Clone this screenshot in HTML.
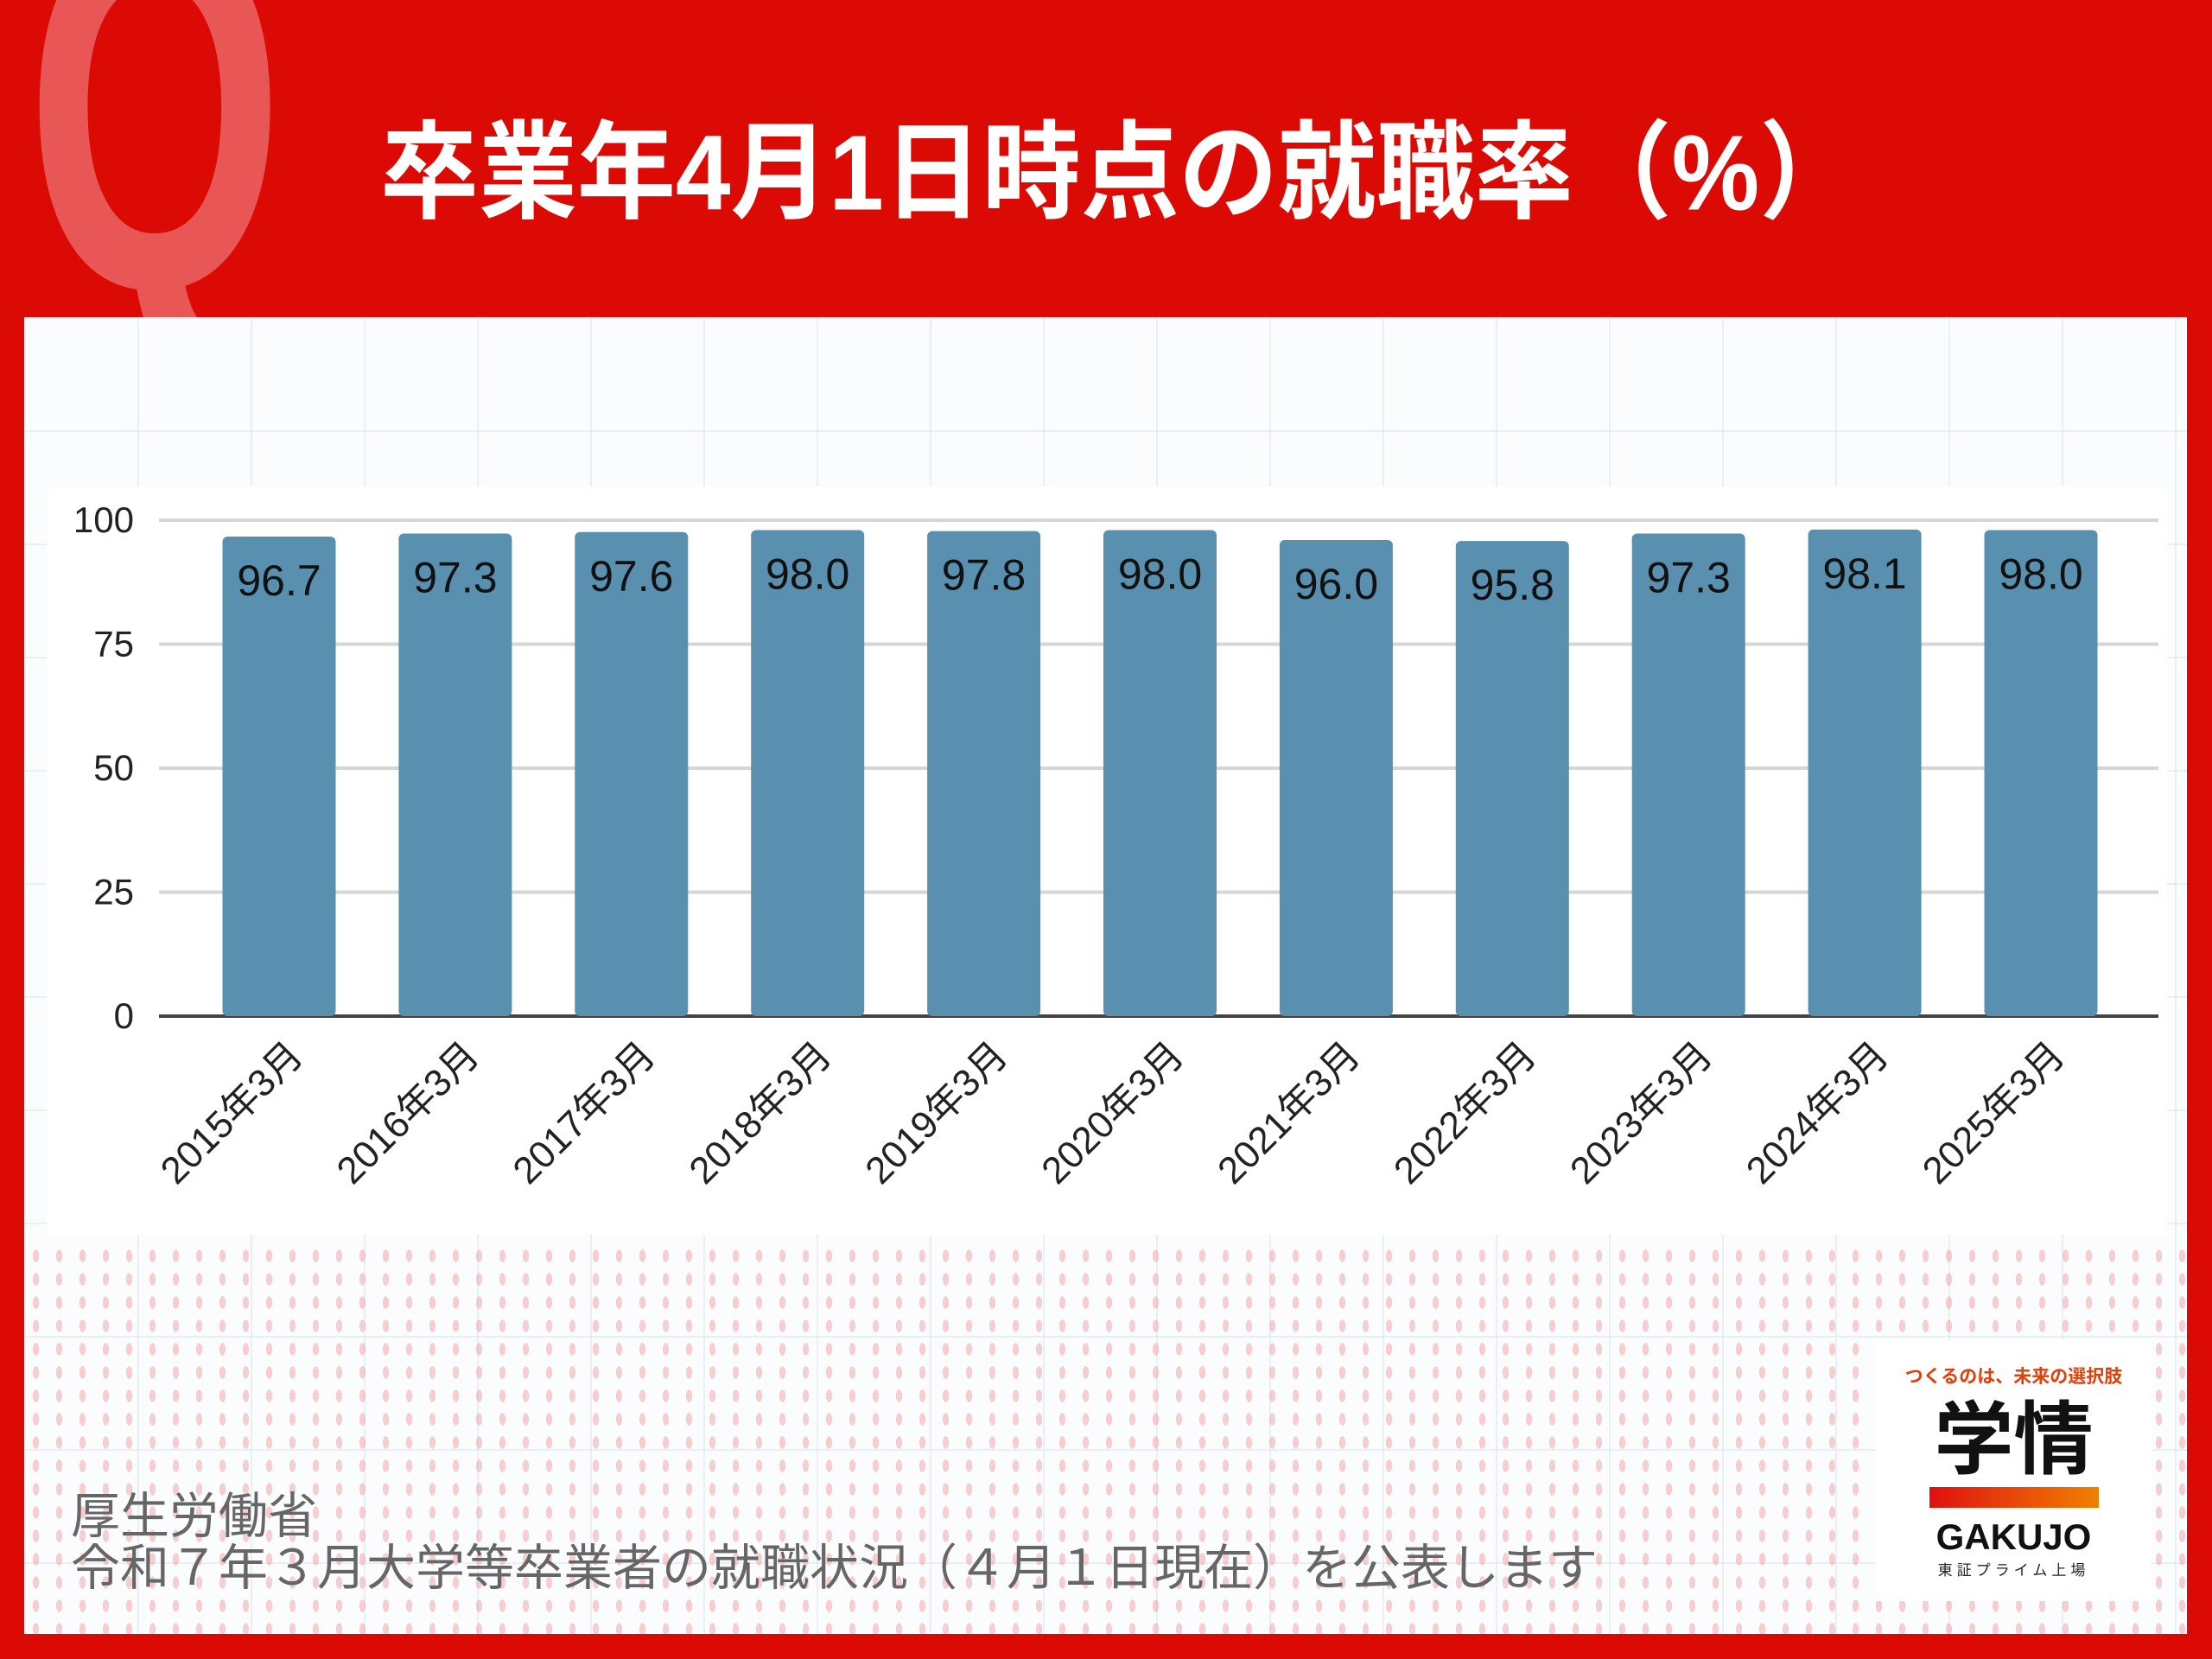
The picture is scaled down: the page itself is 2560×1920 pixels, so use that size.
<!DOCTYPE html>
<html><head><meta charset="utf-8">
<style>
html,body{margin:0;padding:0;}
body{width:2560px;height:1920px;background:#dc0a05;position:relative;overflow:hidden;font-family:"Liberation Sans","Noto Sans CJK JP",sans-serif;}
#panel{position:absolute;left:28px;top:367px;width:2503px;height:1524px;background:#fbfcfd;
 background-image:linear-gradient(90deg,rgba(200,215,230,.35) 2px,transparent 2px),linear-gradient(rgba(200,215,230,.35) 2px,transparent 2px);
 background-size:131px 131px;}
#dots{position:absolute;left:28px;top:1440px;width:2503px;height:451px;
 background-image:radial-gradient(ellipse 5px 10px,rgba(240,150,150,.45) 70%,transparent 75%);background-size:27px 27px;}
#qmark{position:absolute;left:30px;top:-175px;font:bold 600px "Liberation Sans",sans-serif;color:#e85656;line-height:1;transform:scaleX(0.64);transform-origin:left top;}
#title{position:absolute;left:440px;top:140px;font-weight:bold;font-size:114px;color:#fff;letter-spacing:0px;line-height:1;white-space:nowrap;transform:scaleY(1.08);transform-origin:left top;}
#chartbox{position:absolute;left:54px;top:563px;width:2454px;height:866px;background:#fff;}
#src{position:absolute;left:82px;top:1725px;font-size:57px;color:#666;line-height:60px;}
#logo{position:absolute;left:2171px;top:1551px;width:319px;height:302px;background:#fff;text-align:center;}
</style></head><body>
<div id="qmark">Q</div>
<div id="panel"></div>
<div id="dots"></div>
<div id="title">卒業年4月1日時点の就職率（%）</div>
<div id="chartbox"></div>
<svg id="chart" width="2560" height="1920" style="position:absolute;left:0;top:0"></svg>
<div id="src">厚生労働省<br>令和７年３月大学等卒業者の就職状況（４月１日現在）を公表します</div>
<div id="logo">
 <div style="color:#e0400a;font-size:21px;font-weight:bold;margin-top:26px">つくるのは、未来の選択肢</div>
 <div style="font-size:92px;font-weight:bold;color:#111;line-height:100px;margin-top:10px">学情</div>
 <div style="width:196px;height:24px;margin:4px auto 0;background:linear-gradient(90deg,#e01010,#f08000)"></div>
 <div style="font-size:42px;font-weight:bold;color:#111;margin-top:10px">GAKUJO</div>
 <div style="font-size:17px;color:#222;letter-spacing:5px">東証プライム上場</div>
</div>
<script>
const categories=["2015年3月","2016年3月","2017年3月","2018年3月","2019年3月","2020年3月","2021年3月","2022年3月","2023年3月","2024年3月","2025年3月"];
const values=[96.7,97.3,97.6,98.0,97.8,98.0,96.0,95.8,97.3,98.1,98.0];
const valueLabels=["96.7","97.3","97.6","98.0","97.8","98.0","96.0","95.8","97.3","98.1","98.0"];
const yTicks=[0,25,50,75,100];
const NS="http://www.w3.org/2000/svg";
const svg=document.getElementById('chart');
const y0=1176,y100=602,firstC=323,band=203.9,bw=131,xl=184,xr=2498;
function yS(v){return y0-(y0-y100)*v/100;}
function xS(i){return firstC+band*i;}
function mk(t,a){const e=document.createElementNS(NS,t);for(const k in a)e.setAttribute(k,a[k]);svg.appendChild(e);return e;}
yTicks.forEach(t=>{
 const l=mk('line',{x1:xl,x2:xr,y1:yS(t),y2:yS(t),stroke:t===0?'#444':'#d6d6d6','stroke-width':4});
 
 
 const tx=mk('text',{x:155,y:yS(t)+14,'text-anchor':'end','font-size':42,fill:'#222','font-family':'"Liberation Sans",sans-serif'});
 tx.textContent=t;
 
 
});
values.forEach((v,i)=>{
 const r=mk('rect',{x:xS(i)-bw/2,y:yS(v),width:bw,height:y0-yS(v),rx:6,fill:'#5990b0'});
 
 
 const t=mk('text',{x:xS(i),y:yS(v)+68,'text-anchor':'middle','font-size':50,fill:'#111','font-family':'"Liberation Sans Narrow","Liberation Sans",sans-serif'});
 t.textContent=valueLabels[i];
 
 
 const c=mk('text',{x:0,y:0,'text-anchor':'end','font-size':44,fill:'#222','font-family':'"Liberation Sans","Noto Sans CJK JP",sans-serif',transform:`translate(${xS(i)+30},${y0+48}) rotate(-45)`});
 c.textContent=categories[i];
 
 
});
</script>
</body></html>
